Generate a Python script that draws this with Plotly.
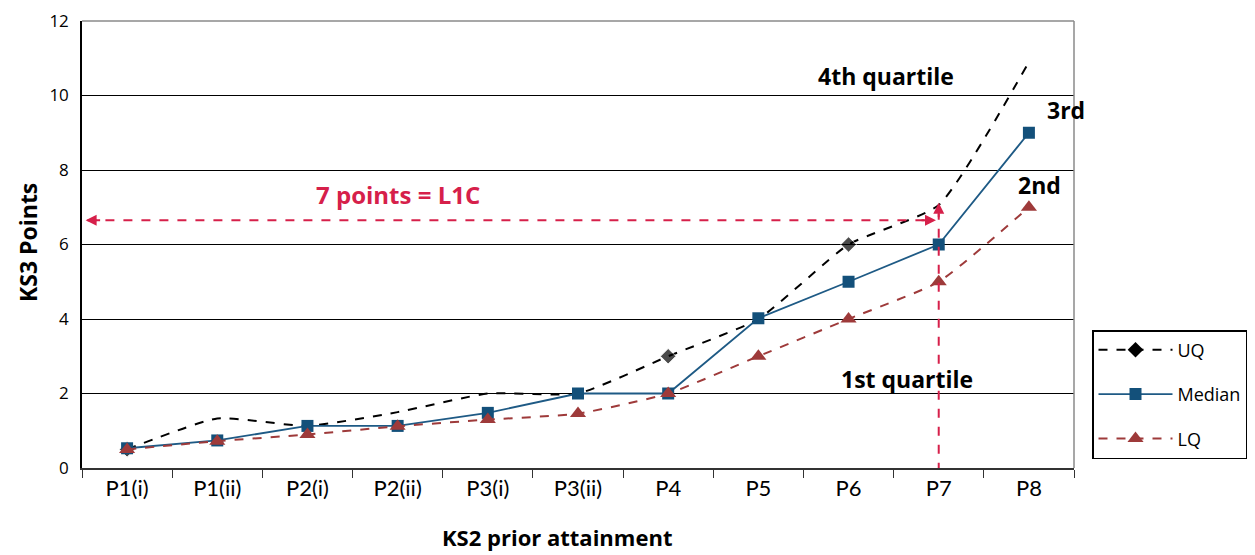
import plotly.graph_objects as go

categories = ["P1(i)", "P1(ii)", "P2(i)", "P2(ii)", "P3(i)", "P3(ii)", "P4", "P5", "P6", "P7", "P8"]
uq = [0.5, 1.33, 1.13, 1.5, 2.0, 2.0, 3.0, 4.0, 6.0, 7.06, 10.9]
median = [0.53, 0.74, 1.13, 1.13, 1.48, 2.0, 2.0, 4.02, 5.0, 6.0, 9.0]
lq = [0.5, 0.72, 0.9, 1.12, 1.3, 1.46, 2.0, 3.0, 4.0, 5.0, 7.0]
uq_marker_shown = [True, False, False, False, False, False, True, False, True, False, False]
y_ticks = [0, 2, 4, 6, 8, 10, 12]

l1c_level = 6.65
l1c_category = "P7"
l1c_top = 7.12

BLUE = "#1E5A85"
BLUE_M = "#13507A"
RED = "#9E3A3A"
CRIMSON = "#D6204A"
FONT = "'Open Sans', Lato, sans-serif"

# page offset of the figure (default body margin)
OFF = 8
W, H = 1255 - OFF, 555 - OFF
ML, MR, MT, MB = 74, 181, 13, 87
pw, ph = W - ML - MR, H - MT - MB


def px_x(p):
    return (p - OFF - ML) / pw


def px_y(p):
    return (H - MB - (p - OFF)) / ph


fig = go.Figure()

fig.add_trace(go.Scatter(
    x=categories, y=uq, mode="lines+markers", name="UQ", showlegend=False,
    line=dict(color="black", width=2, dash="dash", shape="spline", smoothing=0.5),
    marker=dict(symbol="diamond", color="black", size=[12 if s else 0 for s in uq_marker_shown]),
))
fig.add_trace(go.Scatter(
    x=categories, y=median, mode="lines+markers", name="Median", showlegend=False,
    line=dict(color=BLUE, width=1.8),
    marker=dict(symbol="square", color=BLUE_M, size=12),
))
fig.add_trace(go.Scatter(
    x=categories, y=lq, mode="lines+markers", name="LQ", showlegend=False,
    line=dict(color=RED, width=2, dash="dash", shape="spline", smoothing=0.5),
    marker=dict(symbol="triangle-up", color=RED, size=14),
))

# legend entries
fig.add_trace(go.Scatter(x=[None], y=[None], mode="lines+markers", name="UQ", legendgroup="a",
                         line=dict(color="black", width=2, dash="dash"),
                         marker=dict(symbol="diamond", color="black", size=12)))
fig.add_trace(go.Scatter(x=[None], y=[None], mode="lines+markers", name="Median", legendgroup="b",
                         line=dict(color=BLUE, width=1.8),
                         marker=dict(symbol="square", color=BLUE_M, size=12)))
fig.add_trace(go.Scatter(x=[None], y=[None], mode="lines+markers", name="LQ", legendgroup="c",
                         line=dict(color=RED, width=2, dash="dash"),
                         marker=dict(symbol="triangle-up", color=RED, size=14)))

xi = categories.index(l1c_category)

shapes = [
    dict(type="line", xref="paper", yref="paper", x0=0, x1=1, y0=1, y1=1, line=dict(color="#8a8a8a", width=1.5)),
    dict(type="line", xref="paper", yref="paper", x0=1, x1=1, y0=0, y1=1, line=dict(color="#8a8a8a", width=1.5)),
    dict(type="line", xref="x", yref="y", x0=-0.44, x1=xi - 0.1, y0=l1c_level, y1=l1c_level,
         line=dict(color=CRIMSON, width=2, dash="dash")),
    dict(type="line", xref="x", yref="y", x0=xi, x1=xi, y0=-0.1, y1=l1c_top - 0.3,
         line=dict(color=CRIMSON, width=2, dash="dash")),
]

annotations = [
    dict(x=-0.46, y=l1c_level, xref="x", yref="y", ax=16, ay=0, text="", showarrow=True,
         arrowhead=2, arrowsize=1.1, arrowwidth=2, arrowcolor=CRIMSON),
    dict(x=xi - 0.03, y=l1c_level, xref="x", yref="y", ax=-16, ay=0, text="", showarrow=True,
         arrowhead=2, arrowsize=1.1, arrowwidth=2, arrowcolor=CRIMSON),
    dict(x=xi, y=l1c_top, xref="x", yref="y", ax=0, ay=16, text="", showarrow=True,
         arrowhead=2, arrowsize=1.1, arrowwidth=2, arrowcolor=CRIMSON),
    dict(x=3.0, y=7.34, xref="x", yref="y", text="<b>7 points = L1C</b>", showarrow=False,
         font=dict(family=FONT, size=24, color=CRIMSON)),
    dict(x=8.42, y=10.53, xref="x", yref="y", text="<b>4th quartile</b>", showarrow=False,
         font=dict(family=FONT, size=23, color="black")),
    dict(x=10.41, y=9.61, xref="x", yref="y", text="<b>3rd</b>", showarrow=False,
         font=dict(family=FONT, size=23, color="black")),
    dict(x=10.12, y=7.6, xref="x", yref="y", text="<b>2nd</b>", showarrow=False,
         font=dict(family=FONT, size=23, color="black")),
    dict(x=8.65, y=2.4, xref="x", yref="y", text="<b>1st quartile</b>", showarrow=False,
         font=dict(family=FONT, size=23, color="black")),
    dict(x=px_x(28), y=px_y(243), xref="paper", yref="paper", text="<b>KS3 Points</b>", showarrow=False,
         textangle=-90, font=dict(family=FONT, size=23, color="black"), xanchor="center", yanchor="middle"),
    dict(x=px_x(557), y=px_y(537), xref="paper", yref="paper",
         text="<b>KS2 prior attainment</b>", showarrow=False, xanchor="center", yanchor="middle",
         font=dict(family=FONT, size=22, color="black")),
]

fig.update_layout(
    width=W, height=H,
    margin=dict(l=ML, r=MR, t=MT, b=MB, autoexpand=False),
    plot_bgcolor="white", paper_bgcolor="white",
    font=dict(family=FONT, color="black"),
    xaxis=dict(type="category", range=[-0.5, 10.5], tickson="boundaries", ticks="outside",
               ticklen=8, tickcolor="#333", showline=True, linecolor="#333", linewidth=1.5,
               showgrid=False, automargin=False,
               tickfont=dict(family="Lato, sans-serif", size=22, color="black")),
    yaxis=dict(range=[0, 12], tickvals=y_ticks, showgrid=True, gridcolor="black", gridwidth=1,
               showline=True, linecolor="black", linewidth=1.5, zeroline=False, ticks="",
               automargin=False, ticklabelstandoff=8, ticklabeloverflow="allow",
               tickfont=dict(family=FONT, size=17, color="black")),
    legend=dict(x=px_x(1092), y=px_y(330), xanchor="left", yanchor="top",
                bordercolor="black", borderwidth=1.5, bgcolor="white",
                font=dict(family=FONT, size=18, color="black"), tracegroupgap=18,
                itemwidth=74),
    shapes=shapes,
    annotations=annotations,
)

fig.write_html("out.html")
